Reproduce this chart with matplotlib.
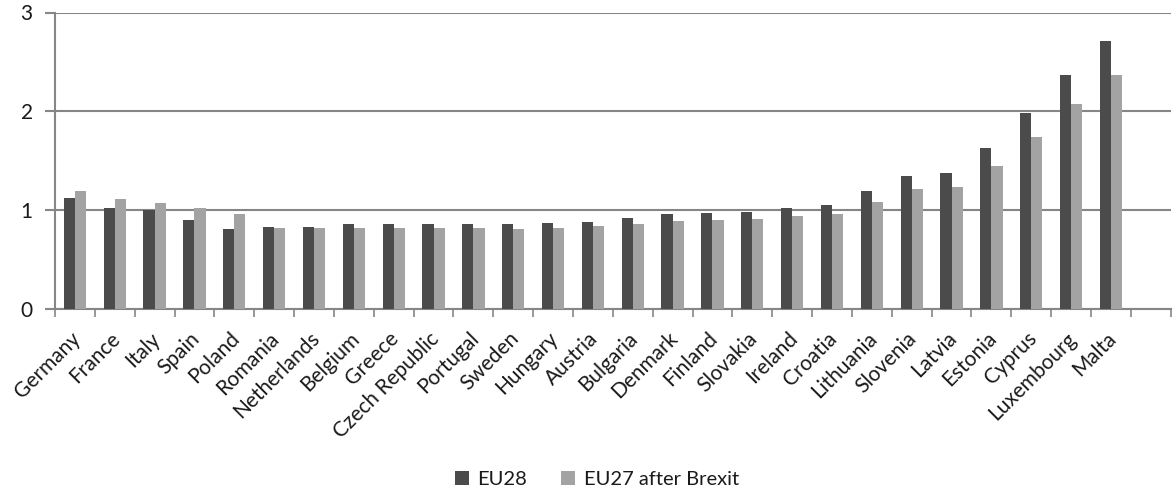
import numpy as np
import matplotlib
matplotlib.use("Agg")
import matplotlib.pyplot as plt
import matplotlib.transforms as mtransforms

# values
countries = ["Germany", "France", "Italy", "Spain", "Poland", "Romania", "Netherlands",
             "Belgium", "Greece", "Czech Republic", "Portugal", "Sweden", "Hungary",
             "Austria", "Bulgaria", "Denmark", "Finland", "Slovakia", "Ireland", "Croatia",
             "Lithuania", "Slovenia", "Latvia", "Estonia", "Cyprus", "Luxembourg", "Malta"]
eu28 = [1.12, 1.02, 1.00, 0.90, 0.81, 0.83, 0.83, 0.855, 0.855, 0.865, 0.865, 0.865,
        0.875, 0.885, 0.918, 0.965, 0.975, 0.985, 1.02, 1.05, 1.19, 1.35, 1.38, 1.63,
        1.98, 2.37, 2.71]
eu27 = [1.19, 1.11, 1.07, 1.02, 0.965, 0.815, 0.815, 0.815, 0.82, 0.82, 0.82, 0.81,
        0.82, 0.835, 0.86, 0.89, 0.90, 0.91, 0.94, 0.965, 1.08, 1.21, 1.23, 1.45,
        1.745, 2.07, 2.37]
yticks = [0, 1, 2, 3]

plt.rcParams['font.family'] = ['Lato', 'DejaVu Sans']
grid_col = "#868686"
txt_col = "#1a1a1a"

fig = plt.figure(figsize=(11.75, 5), dpi=100)
ax = fig.add_axes([0.0468, 0.382, 0.9495, 0.593])

x = np.arange(len(countries))
w = 0.28
ax.bar(x - w / 2, eu28, w, color="#4b4b4b", label="EU28", zorder=3)
ax.bar(x + w / 2, eu27, w, color="#a3a3a3", label="EU27 after Brexit", zorder=3)

ax.set_ylim(0, 3)
ax.set_xlim(-0.5, len(countries) + 0.5)
ax.set_yticks(yticks)
ax.set_yticklabels([str(t) for t in yticks], fontsize=15, color=txt_col)
ax.yaxis.grid(True, color=grid_col, linewidth=1.5, zorder=0)

ax.set_xticks(x)
ax.set_xticklabels(countries, rotation=45, ha="right", rotation_mode="anchor",
                   fontsize=15, color=txt_col)
ax.tick_params(axis="x", length=0, pad=14)
# nudge the rotated labels a little to the left
shift = mtransforms.ScaledTranslation(-5 / 100, 0, fig.dpi_scale_trans)
for lab in ax.get_xticklabels():
    lab.set_transform(lab.get_transform() + shift)
ax.set_xticks(np.arange(-0.5, len(countries) + 1, 1), minor=True)
ax.tick_params(axis="x", which="minor", length=6, width=1.2, color=grid_col)
ax.tick_params(axis="y", length=7, width=1.5, color=grid_col, pad=9)

for s in ["top", "right"]:
    ax.spines[s].set_visible(False)
for s in ["left", "bottom"]:
    ax.spines[s].set_color(grid_col)
    ax.spines[s].set_linewidth(1.5)

fig.legend(loc="lower center", bbox_to_anchor=(0.508, -0.012), ncol=2, frameon=False,
           fontsize=14.5, handlelength=0.7, handleheight=0.7, columnspacing=1.7,
           handletextpad=0.4, labelcolor=txt_col)

fig.savefig("out.png", dpi=100)
